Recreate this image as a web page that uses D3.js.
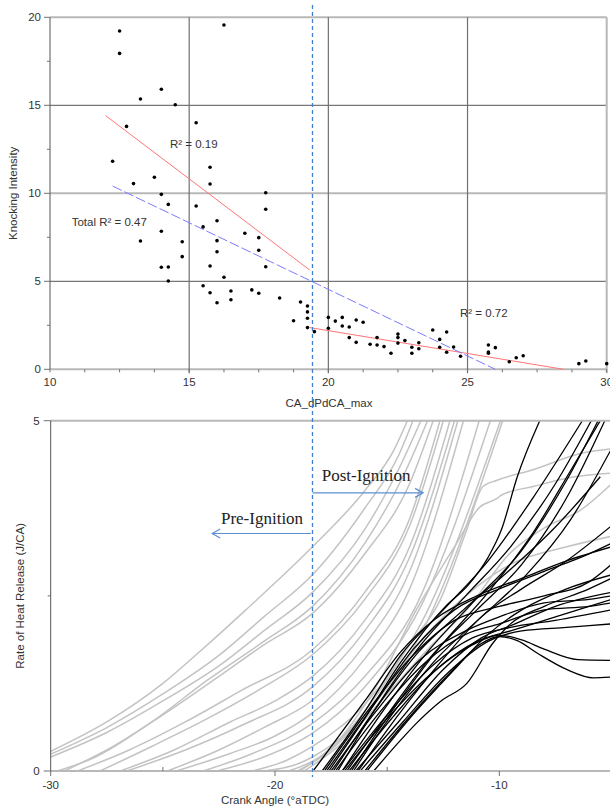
<!DOCTYPE html>
<html>
<head>
<meta charset="utf-8">
<script src="https://cdn.jsdelivr.net/npm/d3@7"></script>
<style>
body { margin: 0; background: #fff; }
svg { display: block; font-family: "Liberation Sans", Arial, sans-serif; }
</style>
</head>
<body>
<svg id="chart" width="610" height="807"></svg>
<script>
//Top panel: knocking intensity vs CA of max dP/dCA
const knockPoints = [
    [12.5,19.22],[12.5,17.95],[16.25,19.56],[13.25,15.36],[14.0,15.91],[14.5,15.03],[12.75,13.8],[15.25,14.01],
    [12.25,11.82],[13.75,10.91],[13.0,10.55],[15.75,11.48],[15.75,10.53],[14.0,9.94],[17.75,10.03],
    [14.25,9.37],[15.25,9.28],[17.75,9.09],[15.5,8.09],[16.0,8.44],[14.0,7.84],[13.25,7.29],[14.75,7.25],
    [16.0,7.31],[17.0,7.73],[17.5,7.48],[17.5,6.76],[16.0,6.68],[14.75,6.4],[15.75,5.87],[14.0,5.8],[14.25,5.81],
    [17.75,5.83],[14.25,5.02],[16.25,5.23],[15.5,4.75],[15.75,4.35],[16.5,4.45],[17.25,4.51],[17.5,4.32],
    [16.0,3.78],[16.5,3.95],[18.25,4.05],[19.0,3.82],[19.25,3.6],[19.25,3.26],[19.25,2.9],[18.75,2.76],
    [19.25,2.37],[19.5,2.14],
    [20.0,2.95],[20.0,2.33],[20.25,2.74],[20.5,2.95],[20.5,2.46],[20.75,2.4],[20.75,1.8],[21.0,2.8],[21.25,2.67],
    [21.0,1.53],[21.5,1.42],[21.75,1.8],[21.75,1.38],[22.0,1.29],[22.25,0.91],[22.5,2.0],[22.5,1.8],[22.5,1.49],
    [22.75,1.63],[23.0,1.25],[23.0,0.91],[23.25,1.51],[23.25,1.17],[23.75,2.23],[24.0,1.7],[24.0,1.25],
    [24.25,2.12],[24.25,0.97],[24.5,1.27],[24.75,0.74],[25.75,1.38],[25.75,0.98],[25.75,0.91],[26.0,1.23],
    [26.5,0.43],[26.75,0.66],[27.0,0.77],[29.0,0.32],[29.25,0.47],[30.0,0.32]
];

//trend lines (end points)
const fitPre = [[12.0,14.41],[19.33,5.64]];
const fitPost = [[19.33,2.37],[28.45,0.0]];
const fitTotal = [[12.25,10.41],[26.0,0.0]];

const r2Labels = [
    {text: 'R² = 0.19', x: 14.31, y: 12.57},
    {text: 'Total R² = 0.47', x: 10.78, y: 8.14},
    {text: 'R² = 0.72', x: 24.73, y: 2.97}
];

const topXTicks = [10, 15, 20, 25, 30];
const topYTicks = [0, 5, 10, 15, 20];

//Bottom panel: rate of heat release vs crank angle
const ignitionAngle = -18.33;

const grayCurves = [
    [[-30,0.28],[-27.5,0.7],[-25,1.25],[-23.3,1.72],[-21.3,2.3],[-18.33,3.2],[-16,4.0],[-14.7,4.58],[-14.1,5]],
    [[-30,0.24],[-27.5,0.62],[-25,1.1],[-22.5,1.65],[-20.5,2.2],[-18.33,2.8],[-16,3.75],[-14.5,4.5],[-13.85,5]],
    [[-30,0.2],[-27.5,0.55],[-25,1.0],[-22.5,1.5],[-20.5,2.0],[-18.33,2.55],[-16,3.45],[-14.5,4.3],[-13.5,5]],
    [[-29.7,0],[-28,0.2],[-25.5,0.7],[-23,1.3],[-20.5,1.85],[-18.33,2.35],[-16,3.25],[-14.3,4.2],[-13.2,5]],
    [[-29.4,0],[-27.5,0.3],[-25,0.8],[-22.5,1.35],[-20.5,1.8],[-18.33,2.25],[-16,3.1],[-14,4.1],[-12.95,5]],
    [[-28.8,0],[-26.5,0.3],[-24,0.7],[-21.5,1.15],[-18.33,1.73],[-16,2.55],[-14,3.6],[-12.65,5]],
    [[-27.8,0],[-25.5,0.35],[-23,0.75],[-20.5,1.2],[-18.33,1.66],[-16,2.45],[-14,3.5],[-12.5,5]],
    [[-26.9,0],[-24.5,0.3],[-22,0.7],[-20,1.0],[-18.33,1.35],[-16,2.15],[-14,3.2],[-12.2,5]],
    [[-26.6,0],[-24,0.3],[-21.5,0.65],[-18.33,1.2],[-16,2.0],[-14,3.05],[-12,5]],
    [[-24.8,0],[-22.5,0.3],[-20.5,0.62],[-18.33,1.01],[-16,1.8],[-14,2.85],[-11.85,5]],
    [[-24.4,0],[-22,0.25],[-20,0.5],[-18.33,0.83],[-16,1.6],[-14,2.6],[-11.6,5]],
    [[-23.2,0],[-21,0.25],[-18.33,0.68],[-16,1.35],[-13.5,2.5],[-10.9,5]],
    [[-22.6,0],[-20.5,0.2],[-18.33,0.54],[-16,1.2],[-13.5,2.35],[-10.4,5]],
    [[-21.0,0],[-19.5,0.15],[-18.33,0.35],[-16,0.95],[-13.5,2.1],[-9.95,5]],
    [[-20.5,0],[-19,0.1],[-18.33,0.2],[-16,0.8],[-13.5,1.95],[-9.85,5]],
    [[-19.4,0],[-18,0.2],[-16,0.85],[-14,1.8],[-12.64,2.44],[-11.5,3.4],[-10.73,4.06],[-10.1,4.15],[-8.5,4.3],[-6.3,4.54],[-5,4.6]],
    [[-18.9,0],[-17,0.5],[-15.5,1.2],[-13.7,2.3],[-12,3.2],[-10.86,3.77],[-10.1,3.89],[-9.9,3.94],[-8.5,4.06],[-7,4.18],[-5,4.25]],
    [[-18.7,0],[-17,0.4],[-15,1.1],[-13,1.8],[-11.45,2.3],[-9.52,3.11],[-7.88,3.49],[-6.4,3.72],[-5,4.1]],
    [[-19.0,0],[-17.5,0.3],[-15.5,1.0],[-13.5,1.85],[-11.5,2.5],[-9.5,2.95],[-7,3.2],[-5,3.35]]
];

const blackCurves = [
    [[-17.6,0],[-16,0.75],[-14.4,1.55],[-12.4,2.35],[-11.4,2.65],[-10.5,3.05],[-9.9,3.45],[-9.2,4.2],[-8.2,5.0]],
    [[-17.9,0],[-16,0.85],[-14.4,1.65],[-12.5,2.3],[-10.5,3.0],[-8.5,3.9],[-6.3,5]],
    [[-17.2,0],[-15.5,0.9],[-13.5,1.8],[-11.5,2.5],[-9.5,3.2],[-7.5,4.1],[-5.9,5]],
    [[-17.0,0],[-15.2,0.85],[-13.2,1.7],[-11.2,2.4],[-9,3.15],[-7,4.15],[-5.6,5]],
    [[-16.8,0],[-15,0.8],[-13,1.65],[-11,2.3],[-9,2.95],[-7,3.9],[-5.3,5]],
    [[-16.5,0],[-14.8,0.8],[-12.8,1.6],[-10.8,2.2],[-8.8,2.8],[-6.8,3.6],[-5,4.6]],
    [[-18.3,0],[-16,1.0],[-14.4,1.7],[-12.9,2.16],[-11,2.5],[-9,2.75],[-7,3.0],[-5,3.2]],
    [[-17.8,0],[-16,0.8],[-14,1.6],[-12,2.15],[-10,2.35],[-8,2.5],[-6,2.7],[-5,2.95]],
    [[-17.5,0],[-15.5,0.85],[-13.5,1.6],[-11.5,2.0],[-10,2.2],[-8,2.4],[-6,2.45],[-5,2.5]],
    [[-17.3,0],[-15.3,0.85],[-13.3,1.55],[-11.5,1.95],[-10,2.1],[-8,2.3],[-6,2.35],[-5,2.4]],
    [[-17.0,0],[-15,0.8],[-13,1.5],[-11.2,1.9],[-9.5,2.05],[-7.5,2.15],[-5,2.3]],
    [[-16.7,0],[-14.8,0.75],[-12.8,1.45],[-11,1.85],[-9.5,2.0],[-7.5,2.2],[-5,2.45]],
    [[-16.4,0],[-14.5,0.7],[-12.5,1.45],[-10.8,1.9],[-9.3,2.1],[-7.5,2.35],[-5,2.55]],
    [[-16.2,0],[-14.3,0.7],[-12.3,1.4],[-10.5,1.85],[-9,2.0],[-7,2.05],[-5,2.1]],
    [[-16.9,0],[-15,0.75],[-13,1.4],[-11.2,1.8],[-10,1.94],[-9,1.87],[-8,1.74],[-6.5,1.59],[-5,1.58]],
    [[-16.0,0],[-14.2,0.7],[-12.2,1.4],[-10.8,1.82],[-10,1.92],[-9.2,1.86],[-8.3,1.68],[-7,1.45],[-5.8,1.33],[-5,1.34]],
    [[-15.6,0],[-14.4,0.44],[-13.7,0.68],[-12.6,1.0],[-11.45,1.25],[-10.3,1.82],[-9.5,2.1],[-8,2.35],[-6,2.6],[-5,2.75]],
    [[-15.9,0],[-14,0.75],[-12,1.45],[-10.5,1.95],[-9,2.3],[-7,2.6],[-5,2.8]],
    [[-16.3,0],[-14.5,0.8],[-12.5,1.6],[-10.8,2.2],[-9,2.6],[-7,3.0],[-5,3.5]],
    [[-17.7,0],[-15.8,0.85],[-13.8,1.75],[-12,2.3],[-10,2.6],[-8,2.85],[-6,3.1],[-5,3.25]],
    [[-16.6,0],[-14.8,0.85],[-12.7,1.75],[-10.5,2.55],[-8.5,3.4],[-6.8,4.3],[-5.5,5]],
    [[-17.4,0],[-15.6,0.85],[-13.6,1.7],[-11.6,2.3],[-9.6,2.85],[-7.6,3.45],[-5.5,4.2]]
];

const botXTicks = [-30, -20, -10];
const botXMinor = [-25, -15, -5];
const botYTicks = [0, 5];

//annotations (data units of the bottom panel)
const postArrow = {label: 'Post-Ignition', x1: ignitionAngle, x2: -13.4, y: 3.97, tx: -17.92, ty: 4.14};
const preArrow = {label: 'Pre-Ignition', x1: -18.4, x2: -22.8, y: 3.39, tx: -22.41, ty: 3.53};


const svg = d3.select('#chart');

const colors = {
    gridDark: '#555555',
    gridMid: '#707070',
    gridLight: '#b8b8b8',
    text: '#333333',
    red: '#ff7676',
    blue: '#7b7bff',
    ignition: '#3f7fd4',
    arrow: '#5d8fd3',
    gray: '#c3c3c3'
};

// ---------- top panel ----------
const xTop = d3.scaleLinear().domain([10, 30]).range([50, 606.7]);
const yTop = d3.scaleLinear().domain([0, 20]).range([369.3, 17.3]);

const gTop = svg.append('g');

//horizontal grid
topYTicks.forEach(v => {
    const light = (v % 10 === 0);
    gTop.append('line')
        .attr('x1', xTop(10)).attr('x2', xTop(30))
        .attr('y1', yTop(v)).attr('y2', yTop(v))
        .attr('stroke', light ? colors.gridLight : colors.gridDark)
        .attr('stroke-width', light ? 2 : 1);
});
//vertical grid
topXTicks.slice(1).forEach(v => {
    gTop.append('line')
        .attr('x1', xTop(v)).attr('x2', xTop(v))
        .attr('y1', yTop(20)).attr('y2', yTop(0) + 4)
        .attr('stroke', v === 30 ? colors.gridLight : colors.gridMid)
        .attr('stroke-width', v === 30 ? 2 : 1.2);
});
//y axis line
gTop.append('line')
    .attr('x1', xTop(10)).attr('x2', xTop(10))
    .attr('y1', yTop(20)).attr('y2', yTop(0))
    .attr('stroke', colors.gridDark).attr('stroke-width', 1);

//ticks
topYTicks.forEach(v => {
    gTop.append('line').attr('x1', xTop(10) - 6).attr('x2', xTop(10))
        .attr('y1', yTop(v)).attr('y2', yTop(v))
        .attr('stroke', colors.gridMid);
    gTop.append('text').attr('x', xTop(10) - 9).attr('y', yTop(v)).attr('dy', '0.35em')
        .attr('text-anchor', 'end').attr('font-size', 11.5).attr('fill', colors.text)
        .text(v);
});
d3.range(2.5, 20, 5).forEach(v => {
    gTop.append('line').attr('x1', xTop(10) - 3).attr('x2', xTop(10))
        .attr('y1', yTop(v)).attr('y2', yTop(v))
        .attr('stroke', colors.gridMid);
});
d3.range(10, 30.01, 1.25).forEach(v => {
    gTop.append('line').attr('x1', xTop(v)).attr('x2', xTop(v))
        .attr('y1', yTop(0)).attr('y2', yTop(0) + 3)
        .attr('stroke', colors.gridMid);
});
topXTicks.forEach(v => {
    gTop.append('text').attr('x', xTop(v)).attr('y', 386)
        .attr('text-anchor', 'middle').attr('font-size', 11.5).attr('fill', colors.text)
        .text(v);
});

//axis titles
gTop.append('text').attr('x', 329).attr('y', 407)
    .attr('text-anchor', 'middle').attr('font-size', 11.5).attr('fill', colors.text)
    .text('CA_dPdCA_max');
gTop.append('text')
    .attr('transform', 'translate(17,' + ((yTop(0) + yTop(20)) / 2) + ') rotate(-90)')
    .attr('text-anchor', 'middle').attr('font-size', 11.5).attr('fill', colors.text)
    .text('Knocking Intensity');

//trend lines
const fitLine = d3.line().x(d => xTop(d[0])).y(d => yTop(d[1]));
gTop.append('path').attr('d', fitLine(fitPre))
    .attr('fill', 'none').attr('stroke', colors.red).attr('stroke-width', 1);
gTop.append('path').attr('d', fitLine(fitPost))
    .attr('fill', 'none').attr('stroke', colors.red).attr('stroke-width', 1);
gTop.append('path').attr('d', fitLine(fitTotal))
    .attr('fill', 'none').attr('stroke', colors.blue).attr('stroke-width', 1)
    .attr('stroke-dasharray', '10,3');

//points
gTop.selectAll('circle.knock')
    .data(knockPoints)
    .join('circle')
    .attr('class', 'knock')
    .attr('cx', d => xTop(d[0]))
    .attr('cy', d => yTop(d[1]))
    .attr('r', 1.8)
    .attr('fill', '#000');

gTop.selectAll('text.r2')
    .data(r2Labels)
    .join('text')
    .attr('class', 'r2')
    .attr('x', d => xTop(d.x))
    .attr('y', d => yTop(d.y))
    .attr('font-size', 11.5)
    .attr('fill', colors.text)
    .text(d => d.text);


// ---------- bottom panel ----------
const xBot = d3.scaleLinear().domain([-30, -5]).range([50.7, 611.5]);
const yBot = d3.scaleLinear().domain([0, 5]).range([771, 420.7]);

const gBot = svg.append('g');

svg.append('defs').append('clipPath').attr('id', 'clipBot')
    .append('rect')
    .attr('x', xBot(-30)).attr('y', yBot(5) - 1)
    .attr('width', xBot(-5) - xBot(-30)).attr('height', yBot(0) - yBot(5) + 1);

const rohrLine = d3.line()
    .x(d => xBot(d[0]))
    .y(d => yBot(d[1]))
    .curve(d3.curveMonotoneX);

const gCurves = gBot.append('g').attr('clip-path', 'url(#clipBot)');
gCurves.selectAll('path.gray')
    .data(grayCurves)
    .join('path')
    .attr('class', 'gray')
    .attr('d', rohrLine)
    .attr('fill', 'none')
    .attr('stroke', colors.gray)
    .attr('stroke-width', 1.5);
gCurves.selectAll('path.black')
    .data(blackCurves)
    .join('path')
    .attr('class', 'black')
    .attr('d', rohrLine)
    .attr('fill', 'none')
    .attr('stroke', '#000')
    .attr('stroke-width', 1.3);

//frame
botYTicks.forEach(v => {
    gBot.append('line')
        .attr('x1', xBot(-30)).attr('x2', 610)
        .attr('y1', yBot(v)).attr('y2', yBot(v))
        .attr('stroke', colors.gridLight).attr('stroke-width', 2);
    gBot.append('line').attr('x1', xBot(-30) - 7).attr('x2', xBot(-30))
        .attr('y1', yBot(v)).attr('y2', yBot(v))
        .attr('stroke', colors.gridMid);
    gBot.append('text').attr('x', xBot(-30) - 11).attr('y', yBot(v)).attr('dy', '0.35em')
        .attr('text-anchor', 'end').attr('font-size', 11.5).attr('fill', colors.text)
        .text(v);
});
gBot.append('line').attr('x1', xBot(-30) - 3).attr('x2', xBot(-30))
    .attr('y1', yBot(2.5)).attr('y2', yBot(2.5))
    .attr('stroke', colors.gridMid);
gBot.append('line')
    .attr('x1', xBot(-30)).attr('x2', xBot(-30))
    .attr('y1', yBot(5)).attr('y2', yBot(0))
    .attr('stroke', colors.gridDark).attr('stroke-width', 1);

botXTicks.forEach(v => {
    gBot.append('line').attr('x1', xBot(v)).attr('x2', xBot(v))
        .attr('y1', yBot(0)).attr('y2', yBot(0) + 5)
        .attr('stroke', colors.gridMid);
    gBot.append('text').attr('x', xBot(v)).attr('y', 789)
        .attr('text-anchor', 'middle').attr('font-size', 11.5).attr('fill', colors.text)
        .text(v);
});
botXMinor.forEach(v => {
    gBot.append('line').attr('x1', xBot(v)).attr('x2', xBot(v))
        .attr('y1', yBot(0) - 4).attr('y2', yBot(0))
        .attr('stroke', colors.gridMid);
});

gBot.append('text').attr('x', 275).attr('y', 804)
    .attr('text-anchor', 'middle').attr('font-size', 11.5).attr('fill', colors.text)
    .text('Crank Angle (°aTDC)');
gBot.append('text')
    .attr('transform', 'translate(24,' + ((yBot(0) + yBot(5)) / 2) + ') rotate(-90)')
    .attr('text-anchor', 'middle').attr('font-size', 11.5).attr('fill', colors.text)
    .text('Rate of Heat Release (J/CA)');

//ignition line across both panels
svg.append('line')
    .attr('x1', xBot(ignitionAngle)).attr('x2', xBot(ignitionAngle))
    .attr('y1', 5).attr('y2', yBot(0) + 6)
    .attr('stroke', colors.ignition).attr('stroke-width', 1.3)
    .attr('stroke-dasharray', '4,3');

//arrows
[postArrow, preArrow].forEach(a => {
    const x1 = xBot(a.x1), x2 = xBot(a.x2), y = yBot(a.y);
    const dir = x2 > x1 ? 1 : -1;
    svg.append('line').attr('x1', x1).attr('x2', x2).attr('y1', y).attr('y2', y)
        .attr('stroke', colors.arrow).attr('stroke-width', 1.2);
    svg.append('path')
        .attr('d', 'M' + (x2 - dir * 8) + ',' + (y - 4.5) + 'L' + x2 + ',' + y + 'L' + (x2 - dir * 8) + ',' + (y + 4.5))
        .attr('fill', 'none').attr('stroke', colors.arrow).attr('stroke-width', 1.2);
    svg.append('text').attr('x', xBot(a.tx)).attr('y', yBot(a.ty))
        .attr('font-family', '"Liberation Serif", "Times New Roman", serif')
        .attr('font-size', 17).attr('fill', '#222')
        .text(a.label);
});
</script>
</body>
</html>
